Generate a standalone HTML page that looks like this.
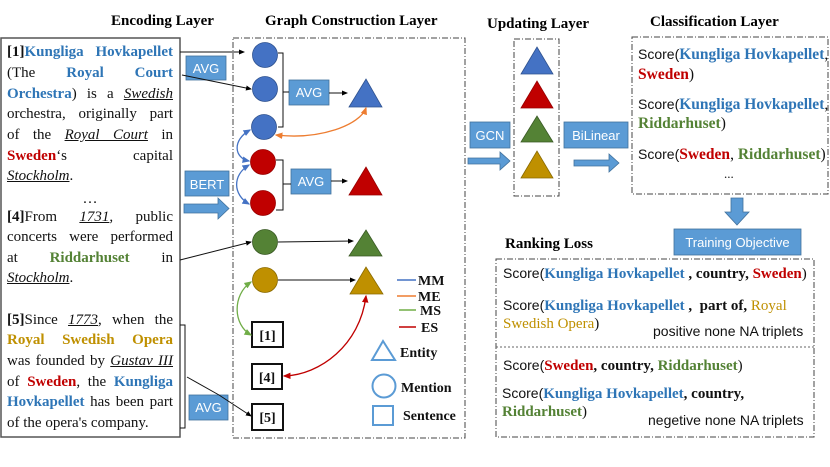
<!DOCTYPE html>
<html><head><meta charset="utf-8"><style>
body{margin:0;width:830px;height:467px;background:#fff;position:relative;overflow:hidden;font-family:"Liberation Serif",serif}
.ln{position:absolute;left:7px;width:166px;font-size:15px;line-height:20px;color:#111;white-space:nowrap}
.j{text-align:justify;text-align-last:justify;white-space:normal}
.b{font-weight:bold}.bl{color:#2E75B6;font-weight:bold}.rd{color:#C00000;font-weight:bold}.gr{color:#548235;font-weight:bold}.go{color:#BF9000;font-weight:bold}
.u{text-decoration:underline;font-style:italic}
.t{position:absolute;font-size:15px;color:#111;white-space:nowrap}
.c{font-size:15.5px}
.s{font-family:"Liberation Sans",sans-serif;font-size:14px}
.tt{position:absolute;font-weight:bold;font-size:15px;white-space:nowrap}
</style></head><body>
<svg width="830" height="467" style="position:absolute;left:0;top:0">
<defs>
<marker id="a" markerWidth="6" markerHeight="6" refX="5" refY="3" orient="auto"><path d="M0,0.5L6,3L0,5.5z" fill="#000"/></marker>
<marker id="ab" markerWidth="6" markerHeight="6" refX="5" refY="3" orient="auto-start-reverse"><path d="M0,0.5L6,3L0,5.5z" fill="#4472C4"/></marker>
<marker id="ao" markerWidth="6" markerHeight="6" refX="5" refY="3" orient="auto-start-reverse"><path d="M0,0.5L6,3L0,5.5z" fill="#ED7D31"/></marker>
<marker id="ag" markerWidth="6" markerHeight="6" refX="5" refY="3" orient="auto-start-reverse"><path d="M0,0.5L6,3L0,5.5z" fill="#70AD47"/></marker>
<marker id="ar" markerWidth="6" markerHeight="6" refX="5" refY="3" orient="auto-start-reverse"><path d="M0,0.5L6,3L0,5.5z" fill="#C00000"/></marker>
</defs>
<g fill="none" stroke="#444" stroke-width="1" stroke-dasharray="6,2,1,2">
<rect x="233" y="38" width="232" height="400"/>
<rect x="514" y="39" width="45" height="157"/>
<rect x="632" y="37" width="196" height="157"/>
<rect x="496" y="259" width="318" height="178"/>
</g>
<line x1="496" y1="347" x2="814" y2="347" stroke="#666" stroke-dasharray="2,2"/>
<rect x="1" y="38" width="179" height="399" fill="none" stroke="#555" stroke-width="1.5"/>
<g fill="#5B9BD5" stroke="#41719C" stroke-width="0.8">
<rect x="186" y="56" width="40" height="24"/>
<rect x="185" y="171" width="44" height="25"/>
<rect x="289" y="80" width="40" height="25"/>
<rect x="291" y="169" width="40" height="25"/>
<rect x="189" y="395" width="39" height="25"/>
<rect x="470" y="122" width="40" height="26"/>
<rect x="564" y="122" width="64" height="26"/>
<rect x="674" y="229" width="127" height="26"/>
<path d="M184,204h34v-6l11,10.5l-11,10.5v-6h-34z"/>
<path d="M468,158h32v-6l10,9l-10,9v-6h-32z"/>
<path d="M574,160h35v-6l10,9l-10,9v-6h-35z"/>
<path d="M731,198h12v14h6l-12,13l-12,-13h6z"/>
</g>
<g font-family="Liberation Sans,sans-serif" font-size="13" fill="#fff" text-anchor="middle">
<text x="206" y="73">AVG</text><text x="207" y="189">BERT</text><text x="309" y="97">AVG</text><text x="311" y="186">AVG</text><text x="208.5" y="412">AVG</text>
<text x="490" y="140">GCN</text><text x="596" y="140">BiLinear</text><text x="737.5" y="247">Training Objective</text>
</g>
<g stroke="#2F528F" stroke-width="0.8">
<circle cx="265" cy="55" r="12.5" fill="#4472C4"/>
<circle cx="265" cy="89" r="12.5" fill="#4472C4"/>
<circle cx="264" cy="127" r="12.5" fill="#4472C4"/>
<circle cx="263" cy="162" r="12.5" fill="#C00000" stroke="#900"/>
<circle cx="263" cy="203" r="12.5" fill="#C00000" stroke="#900"/>
<circle cx="265" cy="242" r="12.5" fill="#548235" stroke="#3a5a25"/>
<circle cx="265" cy="280" r="12.5" fill="#BF9000" stroke="#8a6a00"/>
</g>
<g stroke="#2F528F" stroke-width="0.8">
<polygon points="349,107 366,79 382,107" fill="#4472C4"/>
<polygon points="349,195 366,167 382,195" fill="#C00000" stroke="#900"/>
<polygon points="349,256 366,230 382,256" fill="#548235" stroke="#3a5a25"/>
<polygon points="350,294 366,267 383,294" fill="#BF9000" stroke="#8a6a00"/>
<polygon points="521,74 537,47 553,74" fill="#4472C4"/>
<polygon points="521,108 537,81 553,108" fill="#C00000" stroke="#900"/>
<polygon points="521,142 537,116 553,142" fill="#548235" stroke="#3a5a25"/>
<polygon points="521,178 537,151 553,178" fill="#BF9000" stroke="#8a6a00"/>
</g>
<g fill="#fff" stroke="#111" stroke-width="2">
<rect x="252" y="322" width="31" height="25"/><rect x="252" y="364" width="30" height="25"/><rect x="252" y="404" width="31" height="26"/>
</g>
<g font-weight="bold" font-size="14" text-anchor="middle" fill="#111">
<text x="267.5" y="340">[1]</text><text x="267" y="382">[4]</text><text x="267.5" y="422">[5]</text>
</g>
<g fill="none" stroke="#111" stroke-width="1">
<path d="M278,53h5v74h-5M283,92h6"/>
<path d="M276,160h7v50h-7M283,184h8"/>
<line x1="180" y1="52" x2="244" y2="52" marker-end="url(#a)"/>
<line x1="182" y1="75" x2="251" y2="89" marker-end="url(#a)"/>
<line x1="329" y1="93" x2="347" y2="93" marker-end="url(#a)"/>
<line x1="331" y1="181" x2="347" y2="181" marker-end="url(#a)"/>
<line x1="180" y1="260" x2="251" y2="242" marker-end="url(#a)"/>
<line x1="278" y1="242" x2="353" y2="241" marker-end="url(#a)"/>
<line x1="278" y1="280" x2="355" y2="280" marker-end="url(#a)"/>
<path d="M180,325h5v103h-5"/>
<polyline points="187,377 219,395 251,416" marker-end="url(#a)"/>
</g>
<g fill="none" stroke-width="1.3">
<path d="M250,130 C232,140 234,158 249,161" stroke="#4472C4" marker-start="url(#ab)" marker-end="url(#ab)"/>
<path d="M249,165 C232,175 233,195 249,204" stroke="#4472C4" marker-start="url(#ab)" marker-end="url(#ab)"/>
<path d="M276,135 C320,140 360,125 366,108" stroke="#ED7D31" marker-start="url(#ao)" marker-end="url(#ao)"/>
<path d="M251,282 C232,295 233,325 251,335" stroke="#70AD47" marker-start="url(#ag)" marker-end="url(#ag)"/>
<path d="M366,296 C360,345 320,375 284,376" stroke="#C00000" marker-start="url(#ar)" marker-end="url(#ar)"/>
</g>
<g stroke-width="1.5">
<line x1="397" y1="280" x2="416" y2="280" stroke="#4472C4"/>
<line x1="397" y1="296" x2="416" y2="296" stroke="#ED7D31"/>
<line x1="399" y1="310" x2="416" y2="310" stroke="#70AD47"/>
<line x1="399" y1="327" x2="416" y2="327" stroke="#C00000"/>
</g>
<g fill="none" stroke="#5B9BD5" stroke-width="2">
<polygon points="372,360 383,341 395,360"/><circle cx="384" cy="386" r="11.5"/><rect x="373" y="406" width="20" height="19"/>
</g>
<g font-weight="bold" font-size="14" fill="#111">
<text x="418" y="285">MM</text><text x="418" y="301">ME</text><text x="420" y="315">MS</text><text x="421" y="332">ES</text>
<text x="400" y="357">Entity</text><text x="401" y="392">Mention</text><text x="403" y="420">Sentence</text>
</g>
</svg>
<div class="tt" style="left:111px;top:13px">Encoding Layer</div>
<div class="tt" style="left:265px;top:13px">Graph Construction Layer</div>
<div class="tt" style="left:487px;top:16px">Updating Layer</div>
<div class="tt" style="left:650px;top:14px">Classification Layer</div>
<div class="tt" style="left:505px;top:236px">Ranking Loss</div>

<div class="ln j" style="top:42px"><span class="b">[1]</span><span class="bl">Kungliga Hovkapellet</span></div>
<div class="ln j" style="top:63px">(The <span class="bl">Royal Court</span></div>
<div class="ln j" style="top:84px"><span class="bl">Orchestra</span>) is a <span class="u">Swedish</span></div>
<div class="ln j" style="top:104px">orchestra, originally part</div>
<div class="ln j" style="top:125px">of the <span class="u">Royal Court</span> in</div>
<div class="ln j" style="top:146px"><span class="rd">Sweden</span>‘s capital</div>
<div class="ln" style="top:166px"><span class="u">Stockholm</span>.</div>
<div class="ln" style="top:189px;text-align:center">…</div>
<div class="ln j" style="top:207px"><span class="b">[4]</span>From <span class="u">1731</span>, public</div>
<div class="ln j" style="top:227px">concerts were performed</div>
<div class="ln j" style="top:248px">at <span class="gr">Riddarhuset</span> in</div>
<div class="ln" style="top:268px"><span class="u">Stockholm</span>.</div>
<div class="ln j" style="top:310px"><span class="b">[5]</span>Since <span class="u">1773</span>, when the</div>
<div class="ln j" style="top:330px"><span class="go">Royal Swedish Opera</span></div>
<div class="ln j" style="top:351px">was founded by <span class="u">Gustav III</span></div>
<div class="ln j" style="top:372px">of <span class="rd">Sweden</span>, the <span class="bl">Kungliga</span></div>
<div class="ln j" style="top:392px"><span class="bl">Hovkapellet</span> has been part</div>
<div class="ln" style="top:413px">of the opera's company.</div>

<div class="t c" style="left:638px;top:46px"><span class="s">Score(</span><span class="bl">Kungliga Hovkapellet</span>,</div>
<div class="t c" style="left:638px;top:66px"><span class="rd">Sweden</span>)</div>
<div class="t c" style="left:638px;top:96px"><span class="s">Score(</span><span class="bl">Kungliga Hovkapellet</span>,</div>
<div class="t c" style="left:638px;top:115px"><span class="gr">Riddarhuset</span>)</div>
<div class="t c" style="left:638px;top:146px"><span class="s">Score(</span><span class="rd">Sweden</span>, <span class="gr">Riddarhuset</span>)</div>
<div class="t" style="left:724px;top:166px;font-size:13px">...</div>

<div class="t" style="left:503px;top:265px"><span class="s">Score(</span><span class="bl">Kungliga Hovkapellet</span> <b>, country,</b> <span class="rd">Sweden</span>)</div>
<div class="t" style="left:503px;top:297px"><span class="s">Score(</span><span class="bl">Kungliga Hovkapellet</span> <b>,&nbsp; part of,</b> <span style="color:#BF9000">Royal</span></div>
<div class="t" style="left:503px;top:316px"><span style="color:#BF9000">Swedish Opera</span>)</div>
<div class="t s" style="left:653px;top:323px">positive none NA triplets</div>
<div class="t" style="left:503px;top:357px"><span class="s">Score(</span><span class="rd">Sweden</span><b>, country, </b><span class="gr">Riddarhuset</span>)</div>
<div class="t" style="left:502px;top:385px"><span class="s">Score(</span><span class="bl">Kungliga Hovkapellet</span><b>, country,</b></div>
<div class="t" style="left:502px;top:404px"><span class="gr">Riddarhuset</span>)</div>
<div class="t s" style="left:648px;top:412px">negetive none NA triplets</div>
</body></html>
